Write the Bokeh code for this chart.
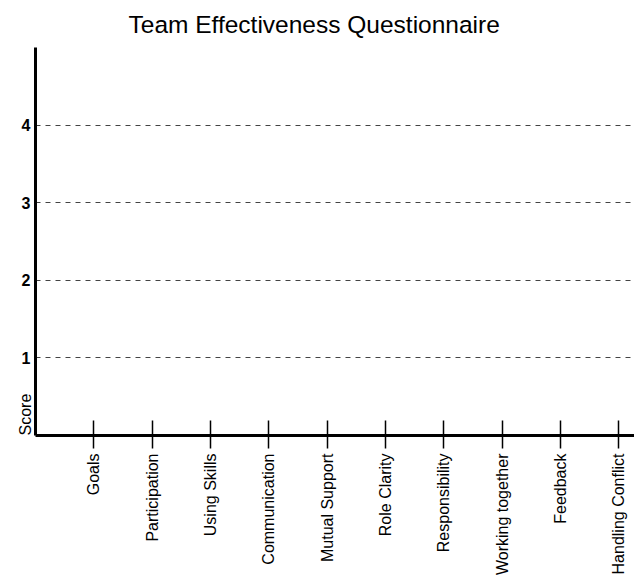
import math
from bokeh.plotting import figure
from bokeh.models import Range1d, FixedTicker, Title, ColumnDataSource
from bokeh.embed import file_html
from bokeh.resources import INLINE

# ---- data ----
categories = ["Goals", "Participation", "Using Skills", "Communication",
              "Mutual Support", "Role Clarity", "Responsibility",
              "Working together", "Feedback", "Handling Conflict"]
scores = [0, 0, 0, 0, 0, 0, 0, 0, 0, 0]   # no bars visible in the reference
y_ticks = [1, 2, 3, 4]
y_max = 5
title_text = "Team Effectiveness Questionnaire"
y_label = "Score"

positions = list(range(1, len(categories) + 1))
FONT = "Liberation Sans"

p = figure(width=634, height=581, output_backend="svg", toolbar_location=None,
           title=None,
           x_range=Range1d(0, 10.27), y_range=Range1d(0, y_max),
           min_border_left=35, min_border_right=0, min_border_top=47,
           min_border_bottom=146)

p.outline_line_color = None
p.background_fill_color = "white"
p.border_fill_color = "white"

p.add_layout(Title(text=title_text, align="left", offset=93,
                   vertical_align="top", standoff=16,
                   text_font=FONT, text_font_size="24.5px",
                   text_font_style="normal", text_color="black"), "above")

src = ColumnDataSource(dict(x=positions, top=scores, cat=categories))
p.vbar(x="x", top="top", bottom=0, width=0.6, source=src,
       fill_color="#4f81bd", line_color=None)

# x axis
xa = p.xaxis[0]
xa.ticker = FixedTicker(ticks=positions)
xa.major_label_overrides = {i: c for i, c in zip(positions, categories)}
xa.major_label_orientation = math.pi / 2
xa.major_label_text_font = FONT
xa.major_label_text_font_size = "16px"
xa.major_label_text_color = "black"
xa.major_tick_in = 15
xa.major_tick_out = 13
xa.major_tick_line_width = 1.5
xa.major_tick_line_color = "black"
xa.minor_tick_line_color = None
xa.axis_line_width = 3
xa.axis_line_color = "black"
xa.major_label_standoff = 5

# y axis
ya = p.yaxis[0]
ya.ticker = FixedTicker(ticks=y_ticks)
ya.major_label_text_font = FONT
ya.major_label_text_font_size = "16px"
ya.major_label_text_font_style = "bold"
ya.major_label_text_color = "black"
ya.major_tick_in = 0
ya.major_tick_out = 0
ya.minor_tick_line_color = None
ya.axis_line_width = 3
ya.axis_line_color = "black"
ya.major_label_standoff = 5

p.xgrid.grid_line_color = None
p.ygrid.ticker = FixedTicker(ticks=y_ticks)
p.ygrid.grid_line_color = "#444444"
p.ygrid.grid_line_dash = "5 5"
p.ygrid.grid_line_width = 1

p.add_layout(Title(text=y_label, align="left", text_font=FONT,
                   text_font_size="16px", text_font_style="normal",
                   text_color="black", standoff=-30), "left")

open("out.html", "w").write(file_html(p, INLINE))
